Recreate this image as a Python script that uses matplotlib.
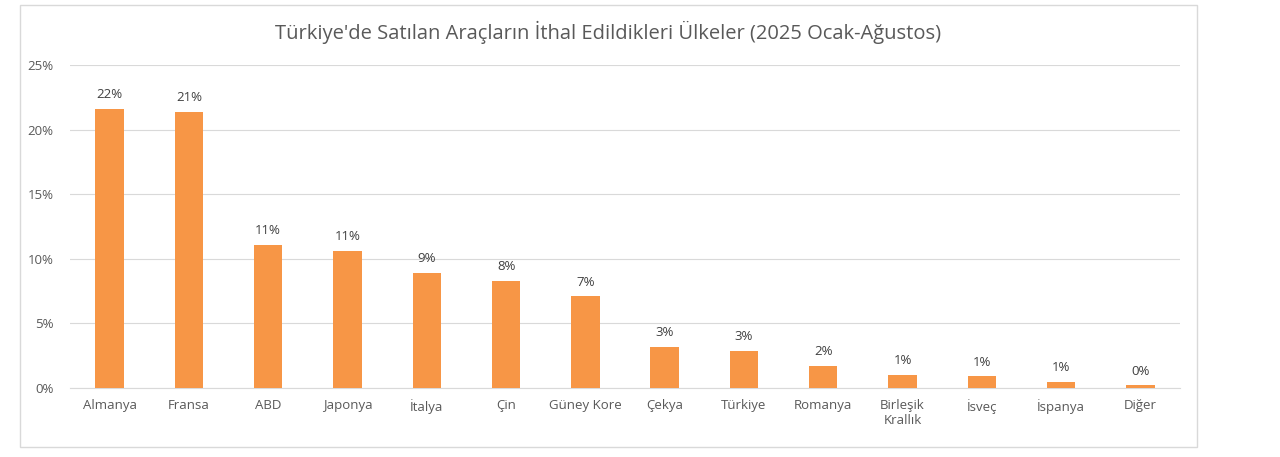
import matplotlib.pyplot as plt
from matplotlib.ticker import PercentFormatter
from matplotlib.patches import Rectangle

countries = ["Almanya", "Fransa", "ABD", "Japonya", "İtalya", "Çin", "Güney Kore",
             "Çekya", "Türkiye", "Romanya", "Birleşik\nKrallık", "İsveç", "İspanya", "Diğer"]
shares = [21.6, 21.4, 11.1, 10.6, 8.9, 8.3, 7.1, 3.2, 2.9, 1.7, 1.0, 0.9, 0.5, 0.2]
labels = ["22%", "21%", "11%", "11%", "9%", "8%", "7%", "3%", "3%", "2%", "1%", "1%", "1%", "0%"]

plt.rcParams["font.family"] = ["Open Sans", "DejaVu Sans"]
grey = "#595959"

fig = plt.figure(figsize=(12.8, 4.57), dpi=100)

# chart frame
fig.patches.append(Rectangle((20 / 1280, 10 / 457), 1177 / 1280, 442 / 457,
                             transform=fig.transFigure, fill=False,
                             edgecolor="#d9d9d9", linewidth=1))

ax = fig.add_axes([70 / 1280, 69 / 457, 1110 / 1280, 323 / 457])
x = range(len(countries))
ax.bar(x, shares, width=0.36, color="#f79646", zorder=3)
for i, (v, lab) in enumerate(zip(shares, labels)):
    ax.text(i, v + 0.6, lab, ha="center", va="bottom", fontsize=9.5, color="#404040")

ax.set_xlim(-0.5, len(countries) - 0.5)
ax.set_ylim(0, 25)
ax.set_yticks([0, 5, 10, 15, 20, 25])
ax.yaxis.set_major_formatter(PercentFormatter(decimals=0))
ax.set_xticks(list(x))
ax.set_xticklabels(countries, fontsize=9.5, color=grey, va="top")
ax.tick_params(axis="y", labelsize=9.5, labelcolor=grey, length=0, pad=12)
ax.tick_params(axis="x", length=0, pad=8)
ax.grid(axis="y", color="#d9d9d9", linewidth=0.8, zorder=0)
for s in ["top", "right", "left"]:
    ax.spines[s].set_visible(False)
ax.spines["bottom"].set_color("#d9d9d9")

fig.text(608 / 1280, 1 - 32 / 457, "Türkiye'de Satılan Araçların İthal Edildikleri Ülkeler (2025 Ocak-Ağustos)",
         ha="center", va="center", fontsize=14.5, color=grey)

fig.savefig("out.png", dpi=100, facecolor="white")
